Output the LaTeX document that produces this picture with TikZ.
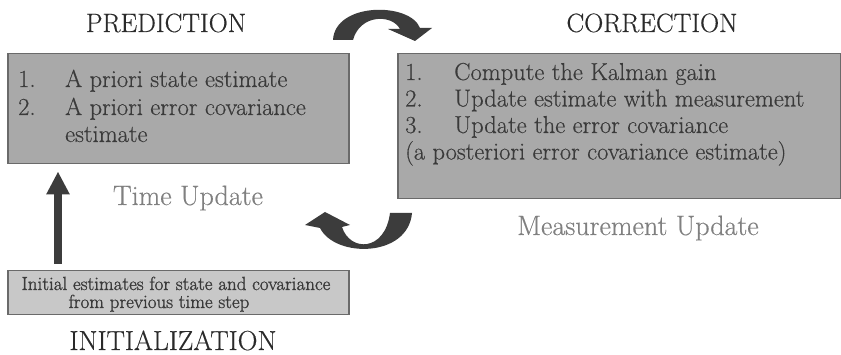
\documentclass[tikz,border=0pt]{standalone}
\usepackage{fontspec}
\newfontfamily\initfont{Latin Modern Roman}[FakeBold=1.2]
\newfontfamily\mainfnt{Latin Modern Roman}[FakeBold=0.4]
\usetikzlibrary{arrows.meta,calc}
\definecolor{boxfill}{HTML}{A9A9A9}
\definecolor{boxline}{HTML}{6A6A6A}
\definecolor{initfill}{HTML}{C8C8C8}
\definecolor{txt}{HTML}{3A3A3A}
\definecolor{headtxt}{HTML}{2A2A2A}
\definecolor{subtxt}{HTML}{808080}
\definecolor{arrowc}{HTML}{3C3C3C}
\begin{document}
\begin{tikzpicture}[x=1pt,y=-1pt,
 box/.style={draw=boxline, line width=1.5pt, fill=boxfill, anchor=north west, inner sep=0pt},
 head/.style={font=\mainfnt\fontsize{26.5}{30}\selectfont, text=headtxt, anchor=base},
 item/.style={font=\mainfnt\fontsize{24.5}{28}\selectfont, text=txt, anchor=base west, inner sep=0pt},
 sub/.style={font=\mainfnt\fontsize{28}{32}\selectfont, text=subtxt, anchor=base},
 init/.style={font=\initfont\fontsize{19}{21}\selectfont, text=txt, anchor=base, inner sep=0pt},
 curve/.style={fill=arrowc},
 bigarrow/.style={draw=arrowc, line width=8pt, -{Triangle[width=22pt,length=23pt]}}]

\useasboundingbox (0,0) rectangle (841,355);
\fill[white] (0,0) rectangle (841,355);

% boxes
\node[box, minimum width=341pt, minimum height=110pt] (pbox) at (7,53) {};
\node[box, minimum width=443pt, minimum height=145pt] (cbox) at (397,53) {};
\node[box, fill=initfill, minimum width=341pt, minimum height=44pt] (ibox) at (7,270) {};

% headings
\node[head] (predh) at (166,32) {PREDICTION};
\node[head] (corrh) at (652,32) {CORRECTION};
\node[head, font=\mainfnt\fontsize{27.5}{31}\selectfont] (inith) at (173,350) {INITIALIZATION};

% prediction items
\node[item] (p1n) at (18,87) {1.};
\node[item] (p1) at (65,87) {A priori state estimate};
\node[item] (p2n) at (18,115) {2.};
\node[item] (p2) at (65,115) {A priori error covariance};
\node[item] (p3) at (65,142) {estimate};

% correction items
\node[item] (c1n) at (405,80) {1.};
\node[item] (c1) at (454,80) {Compute the Kalman gain};
\node[item] (c2n) at (405,106.5) {2.};
\node[item] (c2) at (454,106.5) {Update estimate with measurement};
\node[item] (c3n) at (405,133) {3.};
\node[item] (c3) at (454,133) {Update the error covariance};
\node[item] (c4) at (405,159.5) {(a posteriori error covariance estimate)};

% sub labels
\node[sub] (tu) at (188,205) {Time Update};
\node[sub] (mu) at (638,235) {Measurement Update};

% initialization text
\node[init] (i1) at (176,290) {Initial estimates for state and covariance};
\node[init] (i2) at (159,308) {from previous time step};

% up arrow
\draw[bigarrow] ([xshift=51pt,yshift=6pt]ibox.north west) -- ([xshift=51pt,yshift=-7pt]pbox.south west);

% curved arrows
\fill[curve] (333,40) .. controls (335,2) and (410,2) .. (420,28) -- (432,28) -- (415,41) -- (388,29) -- (400,29) .. controls (392,14) and (360,14) .. (353,40) -- cycle;
\fill[curve] (412,213) .. controls (408,258) and (335,258) .. (320,228) -- (305,225) -- (325,212) -- (350,225) -- (342,227) .. controls (350,252) and (385,252) .. (390,213) -- cycle;
\end{tikzpicture}
\end{document}
